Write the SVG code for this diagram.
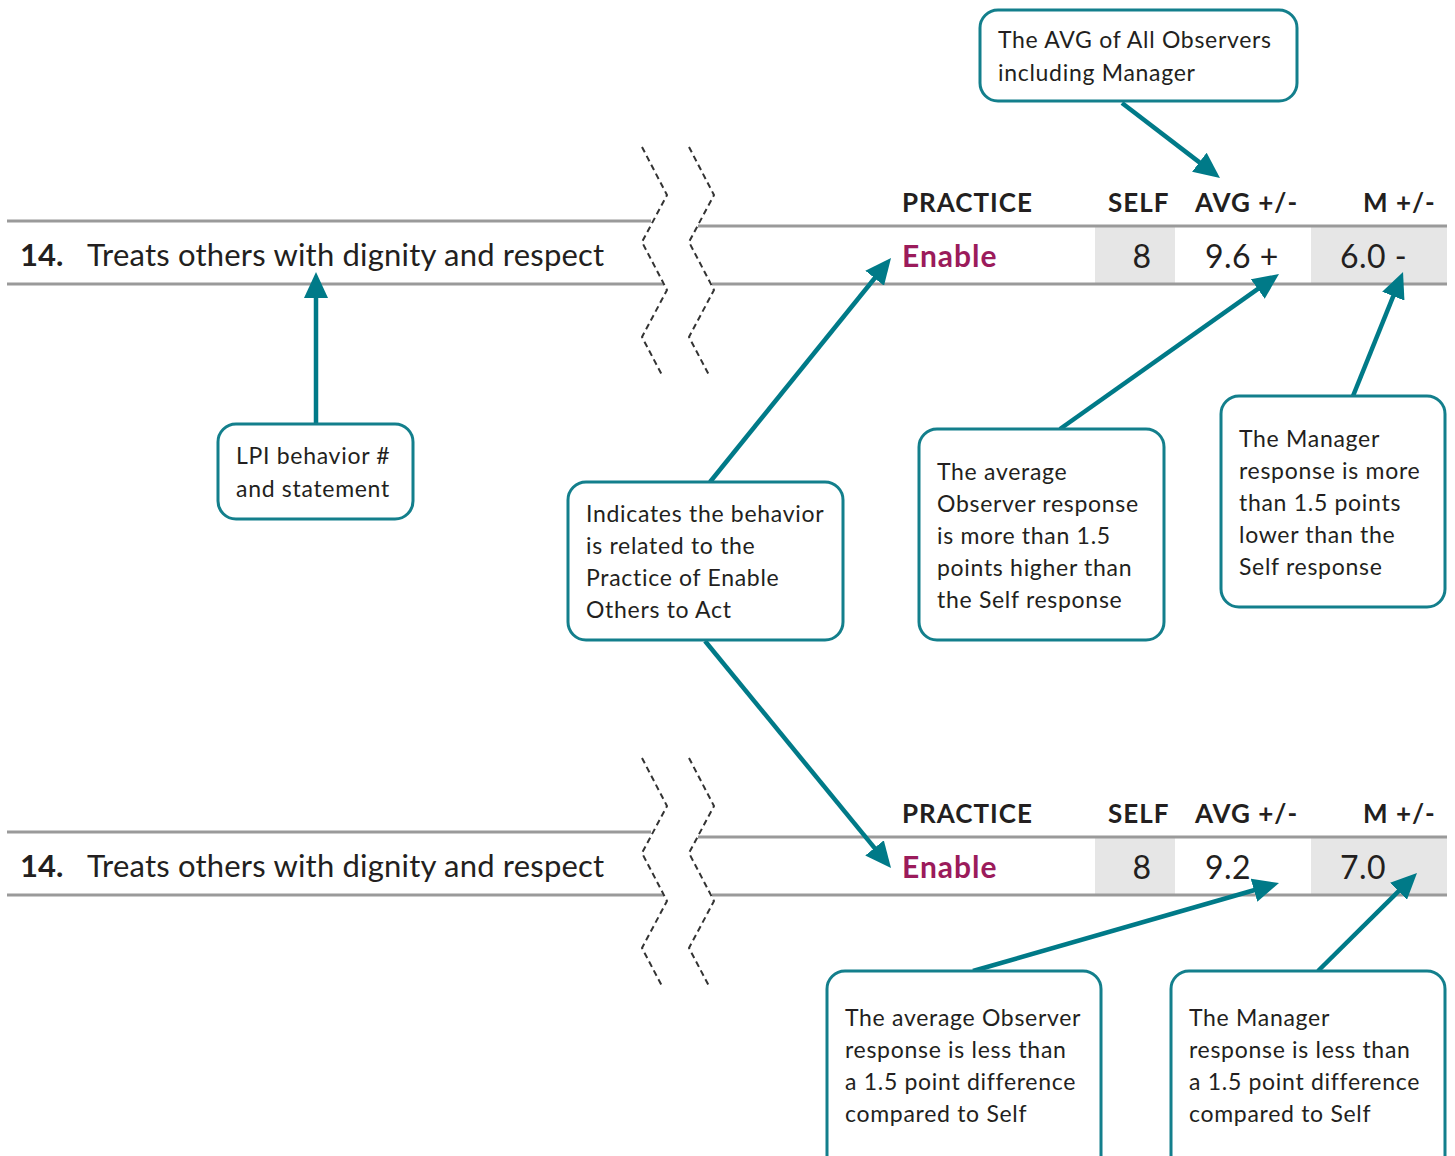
<svg xmlns="http://www.w3.org/2000/svg" width="1455" height="1156" viewBox="0 0 1455 1156">
<style>
text{font-family:Lato,"Noto Sans","Liberation Sans",sans-serif;fill:#231f20}
.rule{stroke:#9a9a9a;stroke-width:3;fill:none}
.zig{stroke:#333;stroke-width:2;stroke-dasharray:6 4;fill:none}
.cell{fill:#e6e6e6}
.hdr{font-size:26px;font-weight:700;letter-spacing:1px}
.num{font-size:31px;font-weight:700}
.stmt{font-size:31px;letter-spacing:0.2px}
.enable{font-size:30px;font-weight:700;fill:#9b1b5b;letter-spacing:1px}
.val{font-size:32px;letter-spacing:0.5px}
.box{fill:#fff;stroke:#137f8c;stroke-width:3}
.bt{font-size:23px;letter-spacing:0.7px}
.conn{stroke:#007a88;stroke-width:4.5;fill:none;marker-end:url(#ah)}
</style>
<defs>
<marker id="ah" markerUnits="userSpaceOnUse" markerWidth="26" markerHeight="24" viewBox="0 0 26 24" refX="8" refY="12" orient="auto">
<path d="M0,0 L26,12 L0,24 z" fill="#007a88"/>
</marker>
</defs>

<g id="row-top">
<rect class="cell" x="1095" y="227" width="80" height="56"/>
<rect class="cell" x="1311" y="227" width="136" height="56"/>
<line class="rule" x1="7" y1="221" x2="651" y2="221"/>
<line class="rule" x1="7" y1="284" x2="664" y2="284"/>
<line class="rule" x1="698" y1="226" x2="1447" y2="226"/>
<line class="rule" x1="712" y1="284" x2="1447" y2="284"/>
<polyline class="zig" points="642,147 667,195 642,242 667,290 642,337 663,377"/>
<polyline class="zig" points="689,147 714,195 689,242 714,290 689,337 710,377"/>
<text class="hdr" x="902" y="212">PRACTICE</text>
<text class="hdr" x="1108" y="212">SELF</text>
<text class="hdr" x="1195" y="212">AVG +/-</text>
<text class="hdr" x="1363" y="212">M +/-</text>
<text class="num" x="20" y="266">14.</text>
<text class="stmt" x="87" y="266">Treats others with dignity and respect</text>
<text class="enable" x="902" y="267">Enable</text>
<text class="val" x="1142" y="268" text-anchor="middle">8</text>
<text class="val" x="1205" y="268">9.6 +</text>
<text class="val" x="1340" y="268">6.0 -</text>
</g>

<g id="row-bottom">
<rect class="cell" x="1095" y="838" width="80" height="56"/>
<rect class="cell" x="1311" y="838" width="136" height="56"/>
<line class="rule" x1="7" y1="832" x2="651" y2="832"/>
<line class="rule" x1="7" y1="895" x2="664" y2="895"/>
<line class="rule" x1="698" y1="837" x2="1447" y2="837"/>
<line class="rule" x1="712" y1="895" x2="1447" y2="895"/>
<polyline class="zig" points="642,758 667,806 642,853 667,901 642,948 663,988"/>
<polyline class="zig" points="689,758 714,806 689,853 714,901 689,948 710,988"/>
<text class="hdr" x="902" y="823">PRACTICE</text>
<text class="hdr" x="1108" y="823">SELF</text>
<text class="hdr" x="1195" y="823">AVG +/-</text>
<text class="hdr" x="1363" y="823">M +/-</text>
<text class="num" x="20" y="877">14.</text>
<text class="stmt" x="87" y="877">Treats others with dignity and respect</text>
<text class="enable" x="902" y="878">Enable</text>
<text class="val" x="1142" y="879" text-anchor="middle">8</text>
<text class="val" x="1205" y="879">9.2</text>
<text class="val" x="1340" y="879">7.0</text>
</g>

<g id="connectors">
<line class="conn" x1="1122" y1="103" x2="1205.7" y2="167.1"/>
<line class="conn" x1="316" y1="424" x2="316" y2="290"/>
<line class="conn" x1="710" y1="482" x2="879.7" y2="272"/>
<line class="conn" x1="705" y1="641" x2="879.6" y2="854.1"/>
<line class="conn" x1="1060" y1="429" x2="1264.3" y2="284.4"/>
<line class="conn" x1="1353" y1="396" x2="1396.3" y2="288.7"/>
<line class="conn" x1="973" y1="971" x2="1261.7" y2="888"/>
<line class="conn" x1="1318" y1="971" x2="1404.2" y2="885.7"/>
</g>

<g id="box-avg-all">
<rect class="box" x="980" y="10" width="317" height="91" rx="18"/>
<text class="bt" x="998" y="48">The AVG of All Observers</text>
<text class="bt" x="998" y="81">including Manager</text>
</g>
<g id="box-lpi">
<rect class="box" x="218" y="424" width="195" height="95" rx="18"/>
<text class="bt" x="236" y="464">LPI behavior #</text>
<text class="bt" x="236" y="497">and statement</text>
</g>
<g id="box-indicates">
<rect class="box" x="568" y="482" width="275" height="158" rx="18"/>
<text class="bt" x="586" y="522">Indicates the behavior</text>
<text class="bt" x="586" y="554">is related to the</text>
<text class="bt" x="586" y="586">Practice of Enable</text>
<text class="bt" x="586" y="618">Others to Act</text>
</g>
<g id="box-avg-high">
<rect class="box" x="919" y="429" width="245" height="211" rx="18"/>
<text class="bt" x="937" y="480">The average</text>
<text class="bt" x="937" y="512">Observer response</text>
<text class="bt" x="937" y="544">is more than 1.5</text>
<text class="bt" x="937" y="576">points higher than</text>
<text class="bt" x="937" y="608">the Self response</text>
</g>
<g id="box-mgr-low">
<rect class="box" x="1221" y="396" width="224" height="211" rx="18"/>
<text class="bt" x="1239" y="447">The Manager</text>
<text class="bt" x="1239" y="479">response is more</text>
<text class="bt" x="1239" y="511">than 1.5 points</text>
<text class="bt" x="1239" y="543">lower than the</text>
<text class="bt" x="1239" y="575">Self response</text>
</g>
<g id="box-avg-less">
<rect class="box" x="827" y="971" width="274" height="220" rx="18"/>
<text class="bt" x="845" y="1026">The average Observer</text>
<text class="bt" x="845" y="1058">response is less than</text>
<text class="bt" x="845" y="1090">a 1.5 point difference</text>
<text class="bt" x="845" y="1122">compared to Self</text>
</g>
<g id="box-mgr-less">
<rect class="box" x="1171" y="971" width="274" height="220" rx="18"/>
<text class="bt" x="1189" y="1026">The Manager</text>
<text class="bt" x="1189" y="1058">response is less than</text>
<text class="bt" x="1189" y="1090">a 1.5 point difference</text>
<text class="bt" x="1189" y="1122">compared to Self</text>
</g>
</svg>
